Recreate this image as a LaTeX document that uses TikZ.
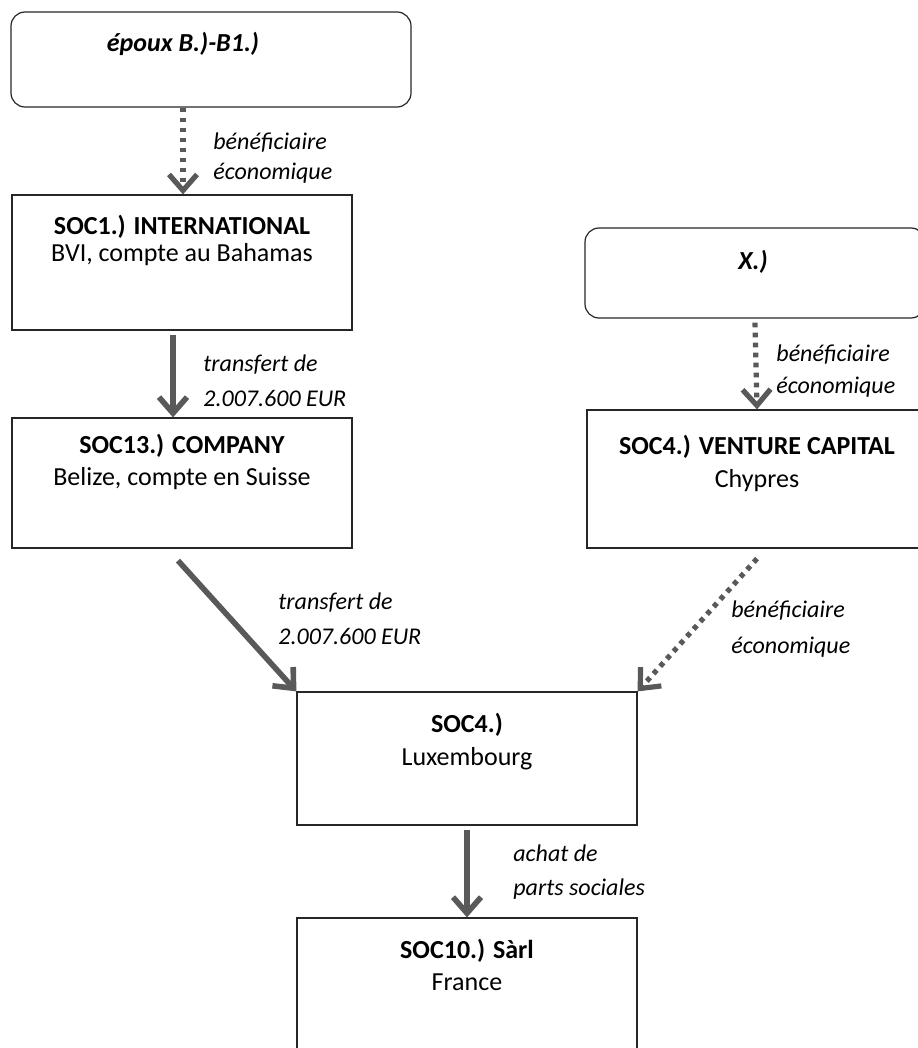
\documentclass[tikz,border=0pt]{standalone}
\usepackage{fontspec}
\setmainfont{Carlito}
\usetikzlibrary{arrows.meta}

\definecolor{flux}{HTML}{595959}
\definecolor{trait}{HTML}{262626}

\tikzset{
	boite/.style={draw=trait, line width=0.6pt, inner sep=0pt},
	titre/.style={anchor=base, align=center, inner sep=0pt, font=\fontsize{13}{16}\selectfont},
	lbl/.style={anchor=west, align=left, inner sep=0pt, font=\fontsize{12}{15}\selectfont\itshape},
	virement/.style={draw=flux, line width=2.8pt, -{Straight Barb[length=8pt,width=14pt]}},
	benef/.style={draw=flux, line width=2.6pt, dash pattern=on 2.4pt off 2.6pt, -{Straight Barb[length=8pt,width=14pt]}}
}

\begin{document}
\begin{tikzpicture}[x=0.5pt, y=-0.5pt]
			\useasboundingbox (0,0) rectangle (917,1048);
			%%%%%%%%%%%%%%%%%%%%%%%%%%%%%%%%
			\node[boite, rounded corners=7pt, minimum width=200pt, minimum height=47.5pt] (epoux) at (211,59.5){};
			\node[titre] (epouxt) at (183,52){\textbf{\itshape époux B.)-B1.)}};
			\node[boite, minimum width=170pt, minimum height=67.5pt] (soc1) at (182,262.5){};
			\node[titre, font=\fontsize{13}{13.5}\selectfont] (soc1t) at (182,262){\textbf{SOC1.) INTERNATIONAL}\\BVI, compte au Bahamas};
			\node[boite, minimum width=170pt, minimum height=65pt] (soc13) at (182,483){};
			\node[titre] (soc13t) at (182,485){\textbf{SOC13.) COMPANY}\\Belize, compte en Suisse};
			%%%%%%%%%%%%%%%%%%%%%%%%%%%%%%%%
			\node[boite, rounded corners=7pt, minimum width=170pt, minimum height=45pt] (xbox) at (755,273){};
			\node[titre] (xboxt) at (753,269){\textbf{\itshape X.)}};
			\node[boite, minimum width=170pt, minimum height=69pt] (vc) at (757,479){};
			\node[titre, font=\fontsize{13}{16.5}\selectfont] (vct) at (757,487){\textbf{SOC4.) VENTURE CAPITAL}\\Chypres};
			%%%%%%%%%%%%%%%%%%%%%%%%%%%%%%%%
			\node[boite, minimum width=170pt, minimum height=66.5pt] (lux) at (467,758.5){};
			\node[titre, font=\fontsize{13}{16.5}\selectfont] (luxt) at (467,765){\textbf{SOC4.)}\\Luxembourg};
			\node[boite, minimum width=170pt, minimum height=76pt] (soc10) at (467,994){};
			\node[titre] (soc10t) at (467,990){\textbf{SOC10.) Sàrl}\\France};
			%%%%%%%%%%%%%%%%%%%%%%%%%%%%%%%%
			\draw[benef] ([xshift=0.5pt]soc1.north |- epoux.south) -- ([xshift=0.5pt]soc1.north);
			\node[lbl] (l1) at (213,158){bénéficiaire\\économique};
			\draw[virement] ([xshift=-4.5pt, yshift=-2pt]soc1.south) -- ([xshift=-4.5pt]soc13.north);
			\node[lbl] (l2) at (203,380.5){transfert de\\[2.5pt]2.007.600 EUR};
			\draw[benef] ([yshift=-2pt]xbox.south) -- (vc.north);
			\node[lbl] (l3) at (776,371){bénéficiaire\\[1pt]économique};
			%%%%%%%%%%%%%%%%%%%%%%%%%%%%%%%%
			\draw[virement] ([xshift=-2pt, yshift=-6pt]soc13.south) -- (lux.north west);
			\node[lbl] (l4) at (278,618.5){transfert de\\[2.5pt]2.007.600 EUR};
			\draw[benef] ([yshift=-5pt]vc.south) -- (lux.north east);
			\node[lbl] (l5) at (731,629){bénéficiaire\\[3pt]économique};
			\draw[virement] ([yshift=-2pt]lux.south) -- (soc10.north);
			\node[lbl] (l6) at (513,872){achat de\\[2pt]parts sociales};
		\end{tikzpicture}
\end{document}
